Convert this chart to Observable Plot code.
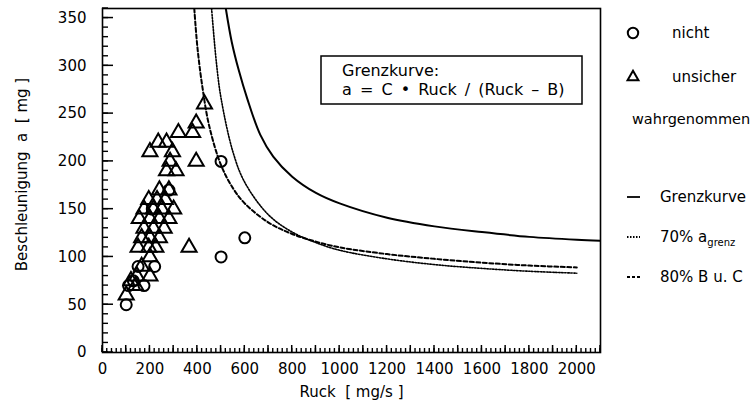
<!DOCTYPE html>
<html><head><meta charset="utf-8">
<script src="https://cdn.jsdelivr.net/npm/d3@7"></script>
<script src="https://cdn.jsdelivr.net/npm/@observablehq/plot@0.6"></script>
<style>
body{margin:0;background:#fff;}
#wrap{position:relative;width:754px;height:409px;overflow:hidden;}
#wrap > svg{position:absolute;left:0;top:0;}
</style>
</head><body><div id="wrap"></div>
<script>
// ---- tick labels ----
const xTickLabels = [0, 200, 400, 600, 800, 1000, 1200, 1400, 1600, 1800, 2000];
const yTickLabels = [0, 50, 100, 150, 200, 250, 300, 350];
const xLabel = "Ruck\u00a0\u00a0[ mg/s ]";
const yLabel = "Beschleunigung\u00a0\u00a0a\u00a0\u00a0[ mg ]";

// ---- scatter: "nicht" wahrgenommen (circles) ----
const nichtRuck = [100, 110, 130, 150, 175, 220, 210, 280, 500, 500, 600];
const nichtA    = [ 50,  70,  75,  90,  70,  90, 150, 170, 200, 100, 120];

// ---- scatter: "unsicher" wahrgenommen (triangles) ----
const unsicherRuck = [100, 120, 140, 145, 165, 200, 200, 150, 195, 225, 165, 200, 240, 175, 215, 260,
                      155, 200, 240, 280, 175, 215, 250, 300, 195, 230, 265, 240, 280, 270, 310, 285,
                      395, 200, 295, 235, 270, 320, 380, 395, 430, 365];
const unsicherA    = [ 60,  75,  70,  80,  90,  80, 100, 110, 110, 110, 120, 120, 120, 130, 130, 130,
                      140, 140, 140, 140, 150, 150, 150, 150, 160, 160, 160, 170, 170, 190, 190, 200,
                      200, 210, 210, 220, 220, 230, 230, 240, 260, 110];

// ---- Grenzkurve a = C*Ruck/(Ruck-B) (solid) ----
const grenzRuck = [520, 545, 575, 610, 665, 720, 800, 900, 1000, 1200, 1400, 1600, 1800, 2000, 2100];
const grenzA    = [360, 325, 295, 266, 228, 205, 184, 167,  156,  141,  132,  126,  121,  118,  117];

// ---- 70% a_grenz (dotted) ----
const p70Ruck = [460, 480, 500, 550, 600, 700, 800, 900, 1000, 1200, 1400, 1600, 1800, 2000];
const p70A    = [360, 304, 266, 210, 178, 144, 126, 115,  107,   98,   92,   88,   85,   83];

// ---- 80% B u. C (dashed) ----
const p80Ruck = [387, 400, 420, 450, 500, 550, 600, 700, 800, 900, 1000, 1200, 1400, 1600, 1800, 2000];
const p80A    = [360, 320, 280, 237, 196, 172, 156, 136, 124, 116,  110,  103,   98,   94,   91,   89];

// ---- annotation + legend texts ----
const boxLines = ["Grenzkurve:", "a = C \u2022 Ruck / (Ruck \u2013 B)"];
const legendMarkers = [{sym: "circle", label: "nicht"}, {sym: "triangle", label: "unsicher"}];
const legendNote = "wahrgenommen";
const legendLines = [
  {dash: null, label: "Grenzkurve"},
  {dash: "1.5,1.5", label: "70% a", sub: "grenz"},
  {dash: "3,2", label: "80% B u. C"}
];

const toPts = (xs, ys) => xs.map((x, i) => ({x, y: ys[i]}));
const FONT = "DejaVu Sans";

const W = 754, H = 409, ML = 102, MR = 154, MT = 8, MB = 57;
const frameW = W - ML - MR, frameH = H - MT - MB;
const xDom = [0, 2100], yDom = [0, 360];

const xMinor = d3.range(0, 2101, 20);
const xMid = d3.range(0, 2101, 100);
const yMinor = d3.range(0, 361, 10);

const chart = Plot.plot({
  width: W, height: H,
  marginLeft: ML, marginRight: MR, marginTop: MT, marginBottom: MB,
  style: {fontFamily: FONT, fontSize: "15px", color: "black", background: "white"},
  x: {domain: xDom},
  y: {domain: yDom},
  marks: [
    Plot.line(toPts(grenzRuck, grenzA), {x: "x", y: "y", stroke: "black", strokeWidth: 2, curve: "catmull-rom", clip: true}),
    Plot.line(toPts(p70Ruck, p70A), {x: "x", y: "y", stroke: "black", strokeWidth: 1.6, strokeDasharray: "1.5,1.5", curve: "catmull-rom", clip: true}),
    Plot.line(toPts(p80Ruck, p80A), {x: "x", y: "y", stroke: "black", strokeWidth: 2, strokeDasharray: "4,2.5", curve: "catmull-rom", clip: true}),
    Plot.dot(toPts(unsicherRuck, unsicherA), {x: "x", y: "y", symbol: "triangle", r: 5.6, stroke: "black", strokeWidth: 2, fill: "none"}),
    Plot.dot(toPts(nichtRuck, nichtA), {x: "x", y: "y", symbol: "circle", r: 5.5, stroke: "black", strokeWidth: 2, fill: "none"}),
    Plot.frame({stroke: "black", strokeWidth: 1.6}),
    Plot.axisX({ticks: xTickLabels, tickSize: 0, tickPadding: 11, label: null, fontSize: 15, tickFormat: d => String(d)}),
    Plot.axisY({ticks: yTickLabels, tickSize: 0, tickPadding: 16, label: null, fontSize: 15, tickFormat: d => String(d)}),
    Plot.text([xLabel], {frameAnchor: "bottom", dy: 44, fontSize: 15, text: d => d}),
    Plot.text([yLabel], {frameAnchor: "left", dx: -80, dy: -6, rotate: -90, textAnchor: "middle", fontSize: 15, text: d => d})
  ]
});

const wrap = document.getElementById("wrap");
wrap.appendChild(chart);

// inward tick marks, placed with the chart's own scales
const sx = chart.scale("x"), sy = chart.scale("y");
const ov = d3.select(wrap).append("svg")
  .attr("width", W).attr("height", H)
  .style("font-family", FONT).style("font-size", "15px");
const tk = ov.append("g").attr("stroke", "black");
const y0 = sy.apply(0), x0 = sx.apply(0);
tk.selectAll(".xm").data(xMinor).join("line").attr("class", "xm")
  .attr("x1", d => sx.apply(d)).attr("x2", d => sx.apply(d)).attr("y1", y0).attr("y2", y0 - 4).attr("stroke-width", 1.4);
tk.selectAll(".xM").data(xMid).join("line").attr("class", "xM")
  .attr("x1", d => sx.apply(d)).attr("x2", d => sx.apply(d)).attr("y1", y0).attr("y2", y0 - 7).attr("stroke-width", 1.5);
tk.selectAll(".ym").data(yMinor).join("line").attr("class", "ym")
  .attr("y1", d => sy.apply(d)).attr("y2", d => sy.apply(d)).attr("x1", x0).attr("x2", x0 + 6).attr("stroke-width", 1.4);
tk.selectAll(".yM").data(yTickLabels).join("line").attr("class", "yM")
  .attr("y1", d => sy.apply(d)).attr("y2", d => sy.apply(d)).attr("x1", x0).attr("x2", x0 + 11).attr("stroke-width", 1.5);

// annotation box
const box = ov.append("g");
box.append("rect").attr("x", 321).attr("y", 56).attr("width", 261).attr("height", 48)
  .attr("fill", "white").attr("stroke", "black").attr("stroke-width", 1.5);
box.selectAll("text").data(boxLines).join("text")
  .attr("x", 342).attr("y", (d, i) => 76 + i * 19).text(d => d)
  .attr("fill", "black").style("font-size", "16px").style("word-spacing", "3px");

// legend
const lg = ov.append("g");
const symGen = d3.symbol().size(85);
legendMarkers.forEach((m, i) => {
  const y = 33 + i * 44;
  lg.append("path").attr("transform", `translate(633,${y})`)
    .attr("d", symGen.type(m.sym === "circle" ? d3.symbolCircle : d3.symbolTriangle2)())
    .attr("fill", "none").attr("stroke", "black").attr("stroke-width", 2);
  lg.append("text").attr("x", 672).attr("y", y + 5).text(m.label);
});
lg.append("text").attr("x", 632).attr("y", 124).style("font-size", "14.5px").text(legendNote);
legendLines.forEach((l, i) => {
  const y = 197 + i * 40;
  lg.append("line").attr("x1", 627).attr("x2", 640).attr("y1", y).attr("y2", y)
    .attr("stroke", "black").attr("stroke-width", 1.8).attr("stroke-dasharray", l.dash);
  const t = lg.append("text").attr("x", 660).attr("y", y + 5).text(l.label);
  if (l.sub) t.append("tspan").attr("dy", 4).attr("font-size", 10).text(l.sub);
});
</script>
</body></html>
